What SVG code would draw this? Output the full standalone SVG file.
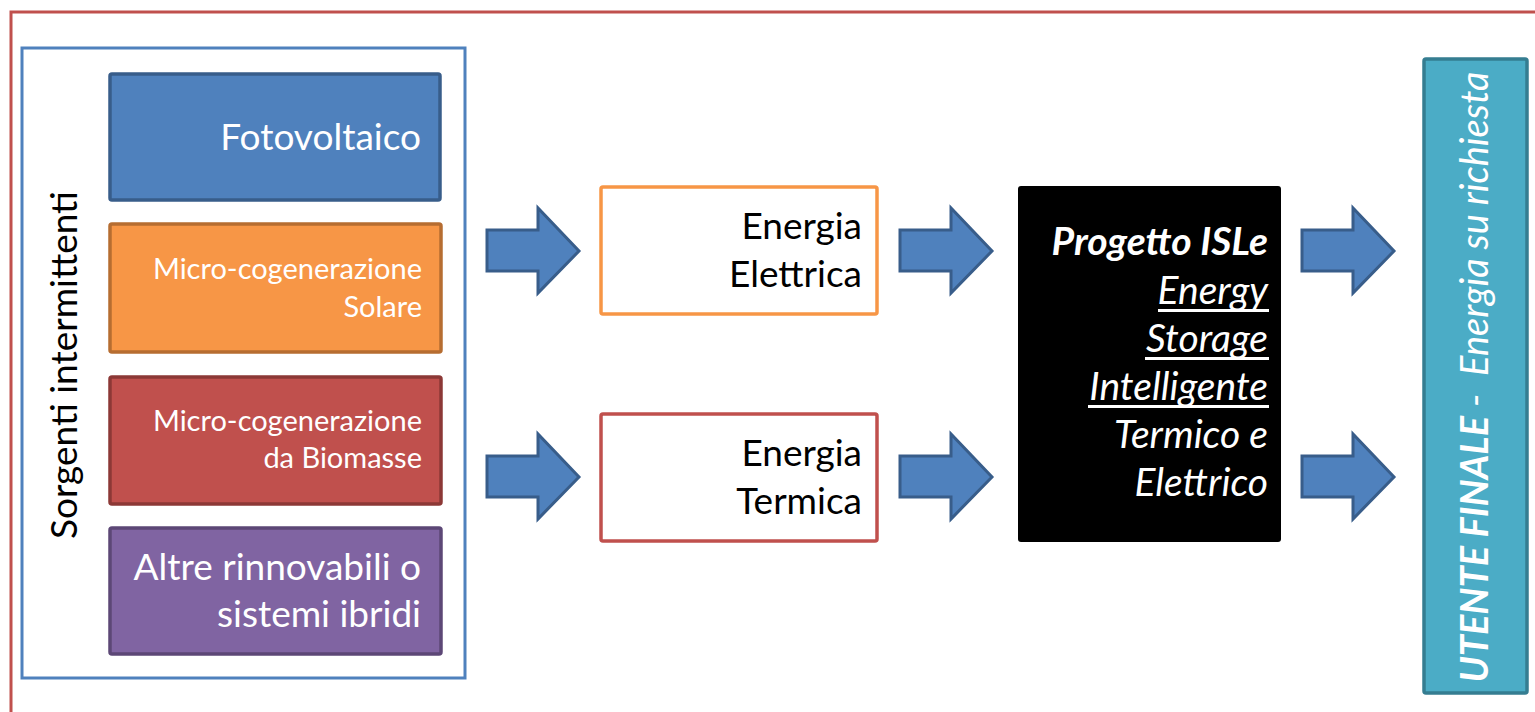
<svg xmlns="http://www.w3.org/2000/svg" width="1535" height="712" viewBox="0 0 1535 712">
<defs>
<style>
text{font-family:Lato,"Open Sans","Liberation Sans",sans-serif;}
.big{font-size:37px;}
.small{font-size:29px;}
.it{font-size:39px;font-style:italic;}
.w{fill:#ffffff;}
.k{fill:#000000;}
.r{text-anchor:end;}
.arrow{fill:#4F81BD;stroke:#385D8A;stroke-width:3;stroke-linejoin:miter;}
</style>
<path id="arr" d="M0,-21 L51,-21 L51,-43 L92,0 L51,42 L51,20 L0,20 Z"/>
</defs>
<rect width="1535" height="712" fill="#ffffff"/>
<g id="frame">
<rect x="11" y="12" width="1560" height="740" fill="none" stroke="#C0504D" stroke-width="3"/>
</g>
<g id="sorgenti">
<rect x="22" y="48" width="443" height="630" fill="#ffffff" stroke="#4F81BD" stroke-width="3"/>
<text class="big k" transform="translate(77,365) rotate(-90)" text-anchor="middle">Sorgenti intermittenti</text>
</g>
<g id="fotovoltaico">
<rect x="110" y="74" width="330" height="126" rx="2" fill="#4F81BD" stroke="#385D8A" stroke-width="3.5"/>
<text class="big w r" x="421" y="150">Fotovoltaico</text>
</g>
<g id="solare">
<rect x="110" y="224" width="331" height="128" rx="2" fill="#F79646" stroke="#B66D31" stroke-width="3.5"/>
<text class="small w r" x="422" y="279">Micro-cogenerazione</text>
<text class="small w r" x="422" y="317">Solare</text>
</g>
<g id="biomasse">
<rect x="110" y="377" width="331" height="127" rx="2" fill="#C0504D" stroke="#8C3836" stroke-width="3.5"/>
<text class="small w r" x="422" y="431">Micro-cogenerazione</text>
<text class="small w r" x="422" y="468">da Biomasse</text>
</g>
<g id="altre">
<rect x="110" y="528" width="331" height="126" rx="2" fill="#8064A2" stroke="#5C4776" stroke-width="3.5"/>
<text class="big w r" x="421" y="580">Altre rinnovabili o</text>
<text class="big w r" x="421" y="627">sistemi ibridi</text>
</g>
<g id="elettrica">
<rect x="601" y="187" width="276" height="127" rx="2" fill="#ffffff" stroke="#F79646" stroke-width="3.5"/>
<text class="big k r" x="862" y="239">Energia</text>
<text class="big k r" x="862" y="287">Elettrica</text>
</g>
<g id="termica">
<rect x="601" y="414" width="276" height="127" rx="2" fill="#ffffff" stroke="#C0504D" stroke-width="3.5"/>
<text class="big k r" x="862" y="466">Energia</text>
<text class="big k r" x="862" y="514">Termica</text>
</g>
<g id="isle">
<rect x="1018" y="186" width="263" height="356" rx="3" fill="#000000"/>
<text class="it w r" x="1268" y="255" font-weight="bold">Progetto ISLe</text>
<text class="it w r" x="1268" y="304">Energy</text>
<text class="it w r" x="1268" y="352">Storage</text>
<text class="it w r" x="1268" y="400">Intelligente</text>
<rect x="1158" y="309" width="111" height="3" fill="#ffffff"/>
<rect x="1145" y="357" width="124" height="3" fill="#ffffff"/>
<rect x="1088" y="405" width="181" height="3" fill="#ffffff"/>
<text class="it w r" x="1268" y="448">Termico e</text>
<text class="it w r" x="1268" y="496">Elettrico</text>
</g>
<g id="utente">
<rect x="1424" y="59" width="103" height="634" rx="2" fill="#4BACC6" stroke="#357D91" stroke-width="3.5"/>
<text class="w" style="font-size:38px;font-style:italic;white-space:pre" transform="translate(1488,377) rotate(-90)" text-anchor="middle"><tspan font-weight="bold">UTENTE FINALE</tspan> -  Energia su richiesta</text>
</g>
<g id="connectors">
<use href="#arr" class="arrow" x="487" y="251"/>
<use href="#arr" class="arrow" x="487" y="477"/>
<use href="#arr" class="arrow" x="900" y="251"/>
<use href="#arr" class="arrow" x="900" y="477"/>
<use href="#arr" class="arrow" x="1302" y="251"/>
<use href="#arr" class="arrow" x="1302" y="477"/>
</g>
</svg>
